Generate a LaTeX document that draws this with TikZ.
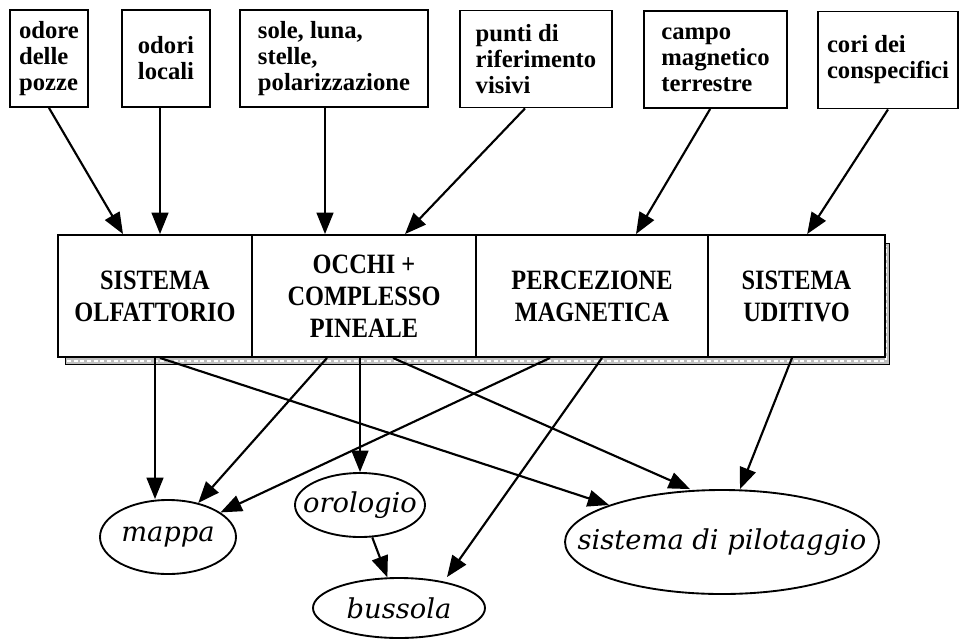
\documentclass[tikz,border=0pt]{standalone}
\usepackage{fontspec}
\setmainfont{DejaVu Serif}
\newfontfamily\fontefont{Liberation Serif}
\newfontfamily\sistemafont[FakeStretch=0.87]{Liberation Serif}
\usetikzlibrary{arrows.meta,shapes.geometric}

\tikzset{
  fonte/.style={draw, line width=1.4pt, align=left, inner sep=2pt, minimum height=72.75pt, font=\fontefont\bfseries\fontsize{18.5}{19.5}\selectfont},
  sistema/.style={draw, line width=1.4pt, fill=white, align=center, minimum height=91.5pt, font=\sistemafont\bfseries\fontsize{21}{24}\selectfont},
  esito/.style={draw, ellipse, line width=1.4pt, inner sep=0pt, font=\itshape\fontsize{20.5}{22}\selectfont},
  freccia/.style={line width=1.6pt, -{Triangle[length=16pt,width=12.5pt]}},
  ombra/.style={draw, line width=0.5pt, fill=gray!50},
}
% text of an ellipse, without widening it
\newcommand{\testoesito}[1]{\makebox[0pt]{#1}}

\begin{document}
\begin{tikzpicture}[x=0.75pt,y=0.75pt,yscale=-1,xscale=1]
\useasboundingbox (0,0) rectangle (960,640);

%Shape: Rectangle (shadow of the middle block)
\draw[ombra] (65,243) rectangle (889,364);
\draw[white, line width=0.8pt, densely dashed] (67,361) -- (886,361) -- (886,246);

% Text Node
\node[fonte, minimum width=58.5pt] (pozze) at (49,58.5) {odore\\delle\\pozze};
% Text Node
\node[fonte, minimum width=66pt] (locali) at (166,58.5) {odori\\locali};
% Text Node
\node[fonte, minimum width=141pt] (astri) at (334,58.5) {sole, luna,\\stelle,\\polarizzazione};
% Text Node
\node[fonte, minimum width=114pt] (visivi) at (536,59) {punti di\\riferimento\\visivi};
% Text Node
\node[fonte, minimum width=107.25pt] (campo) at (715.5,59.5) {campo\\magnetico\\terrestre};
% Text Node
\node[fonte, minimum width=105pt] (cori) at (888,60) {cori dei\\conspecifici};

% Text Node
\node[sistema, minimum width=145.5pt] (olf) at (155,296) {SISTEMA\\OLFATTORIO};
% Text Node
\node[sistema, minimum width=168pt] (occhi) at (364,296) {OCCHI +\\COMPLESSO\\PINEALE};
% Text Node
\node[sistema, minimum width=174pt] (magn) at (592,296) {PERCEZIONE\\MAGNETICA};
% Text Node
\node[sistema, minimum width=132.75pt] (udit) at (796.5,296) {SISTEMA\\UDITIVO};

% Text Node
\node[esito, minimum width=102pt, minimum height=55.5pt] (mappa) at (168,537) {\testoesito{mappa}};
% Text Node
\node[esito, minimum width=97.5pt, minimum height=48pt] (orol) at (360,505) {\testoesito{orologio}};
% Text Node
\node[esito, minimum width=129pt, minimum height=45pt] (buss) at (399,608) {\testoesito{bussola}};
% Text Node
\node[esito, minimum width=235.5pt, minimum height=78pt] (pilot) at (722,542) {\testoesito{sistema di pilotaggio}};

%Straight Lines
\draw[freccia] (pozze.south) -- ([xshift=-24pt]olf.north);
\draw[freccia] ([xshift=-4.5pt]locali.south) -- ([xshift=3.75pt]olf.north);
\draw[freccia] ([xshift=-6.75pt]astri.south) -- ([xshift=-29.25pt]occhi.north);
\draw[freccia] ([xshift=-8.25pt]visivi.south) -- ([xshift=30.75pt]occhi.north);
\draw[freccia] ([xshift=-4pt]campo.south) -- ([xshift=33pt]magn.north);
\draw[freccia] (cori.south) -- ([xshift=8pt]udit.north);

%Straight Lines
\draw[freccia] (olf.south) -- (olf.south |- mappa.north);
\draw[freccia] ([xshift=-27.75pt]occhi.south) -- (mappa);
\draw[freccia] ([xshift=-31.5pt]magn.south) -- (mappa);
\draw[freccia] (orol.north |- occhi.south) -- (orol.north);
\draw[freccia] ([xshift=3.75pt]olf.south) -- (pilot);
\draw[freccia] ([xshift=21.75pt]occhi.south) -- ([xshift=-24pt]pilot.north);
\draw[freccia] ([xshift=7.5pt]magn.south) -- ([xshift=36pt]buss.north);
\draw[freccia] ([xshift=-3.4pt]udit.south) -- ([xshift=13.5pt]pilot.north);
\draw[freccia] (orol) -- (buss);

\end{tikzpicture}
\end{document}
